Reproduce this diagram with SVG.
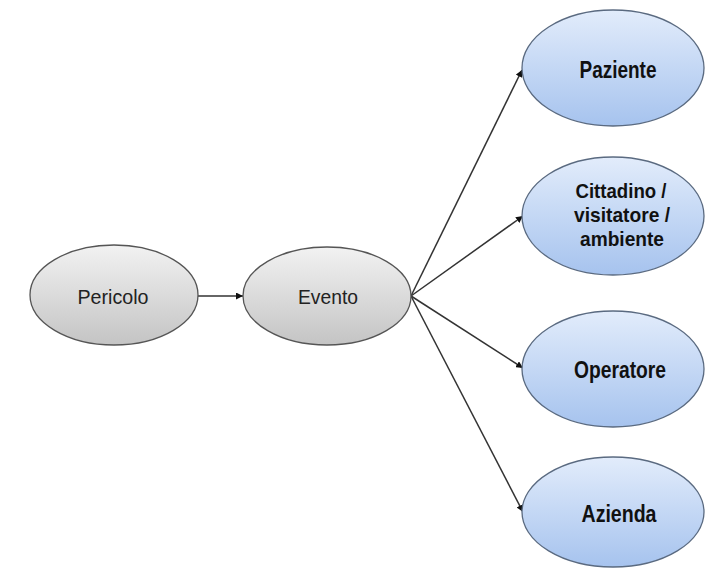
<svg xmlns="http://www.w3.org/2000/svg" width="707" height="569" viewBox="0 0 707 569">
<style>
.gray{fill:url(#gGray);stroke:#555;stroke-width:1.3}
.blue{fill:url(#gBlue);stroke:#5a6a80;stroke-width:1.3}
.reg{font-family:"Liberation Sans",Arial,sans-serif;font-size:21px;fill:#222;text-anchor:middle}
.bold{font-family:"Liberation Sans",Arial,sans-serif;font-size:24px;font-weight:bold;fill:#111;text-anchor:middle}
.bold3{font-family:"Liberation Sans",Arial,sans-serif;font-size:21px;font-weight:bold;fill:#111;text-anchor:middle}
.conn{stroke:#333;stroke-width:1.5;fill:none;marker-end:url(#arr)}
</style>
<defs>
<linearGradient id="gGray" x1="0" y1="0" x2="0" y2="1">
<stop offset="0" stop-color="#f2f2f2"/>
<stop offset="1" stop-color="#c4c4c4"/>
</linearGradient>
<linearGradient id="gBlue" x1="0" y1="0" x2="0" y2="1">
<stop offset="0" stop-color="#e2ecfb"/>
<stop offset="1" stop-color="#a6c3ee"/>
</linearGradient>
<marker id="arr" viewBox="0 0 10 10" refX="10" refY="5" markerWidth="7" markerHeight="7" markerUnits="userSpaceOnUse" orient="auto">
<path d="M0,0 L10,5 L0,10 z" fill="#111"/>
</marker>
</defs>
<rect width="707" height="569" fill="#fff"/>
<g id="connectors">
<line class="conn" x1="198" y1="296" x2="243" y2="296"/>
<line class="conn" x1="411" y1="296" x2="522" y2="70"/>
<line class="conn" x1="411" y1="296" x2="523" y2="216"/>
<line class="conn" x1="411" y1="296" x2="523" y2="368"/>
<line class="conn" x1="411" y1="296" x2="523" y2="512"/>
</g>
<g id="pericolo">
<ellipse class="gray" cx="114" cy="295" rx="84" ry="50"/>
<text class="reg" x="113" y="304" textLength="71" lengthAdjust="spacingAndGlyphs">Pericolo</text>
</g>
<g id="evento">
<ellipse class="gray" cx="327" cy="296" rx="84" ry="49"/>
<text class="reg" x="328" y="304" textLength="60" lengthAdjust="spacingAndGlyphs">Evento</text>
</g>
<g id="paziente">
<ellipse class="blue" cx="613" cy="68" rx="91" ry="58"/>
<text class="bold" x="618" y="78" textLength="77" lengthAdjust="spacingAndGlyphs">Paziente</text>
</g>
<g id="cittadino">
<ellipse class="blue" cx="613" cy="216" rx="91" ry="59"/>
<text class="bold3" x="621" y="198" textLength="91" lengthAdjust="spacingAndGlyphs">Cittadino /</text>
<text class="bold3" x="622" y="222" textLength="96" lengthAdjust="spacingAndGlyphs">visitatore /</text>
<text class="bold3" x="622" y="246" textLength="84" lengthAdjust="spacingAndGlyphs">ambiente</text>
</g>
<g id="operatore">
<ellipse class="blue" cx="613" cy="369" rx="91" ry="58"/>
<text class="bold" x="620" y="378" textLength="92" lengthAdjust="spacingAndGlyphs">Operatore</text>
</g>
<g id="azienda">
<ellipse class="blue" cx="613" cy="512" rx="91" ry="55"/>
<text class="bold" x="619" y="522" textLength="75" lengthAdjust="spacingAndGlyphs">Azienda</text>
</g>
</svg>
